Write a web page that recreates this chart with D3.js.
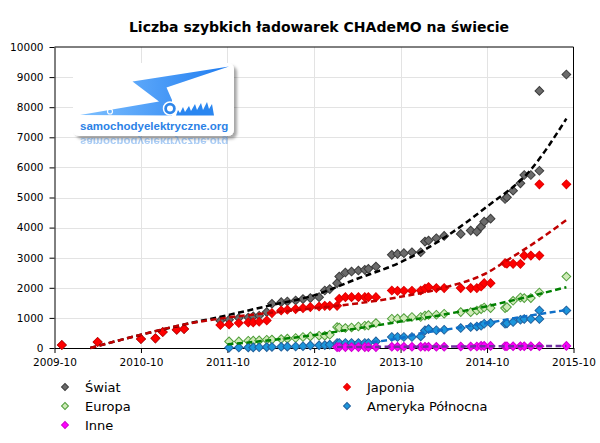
<!DOCTYPE html>
<html>
<head>
<meta charset="utf-8">
<script src="https://cdn.jsdelivr.net/npm/d3@7"></script>
<style>
  body { margin: 0; background: #fff; }
  svg text { font-family: "DejaVu Sans", Verdana, sans-serif; }
</style>
</head>
<body>
<div id="chart"></div>
<script>
var wid = 600,
	heig = 443;

// observation dates (one column per reading)
var dates = ["2009-11-01","2010-04-01","2010-10-01","2010-12-01","2011-01-01","2011-03-01","2011-04-01",
	"2011-09-01","2011-10-08","2011-11-18","2011-12-28","2012-01-18","2012-02-12","2012-03-15","2012-04-06","2012-05-15","2012-06-10","2012-07-15","2012-08-15","2012-09-15","2012-10-22","2012-11-15","2012-12-06",
	"2013-01-06","2013-01-15","2013-02-10","2013-03-08","2013-04-06","2013-05-03","2013-05-18","2013-06-19","2013-08-25","2013-09-18","2013-10-15","2013-11-18","2013-12-25",
	"2014-01-12","2014-01-27","2014-03-01","2014-04-03","2014-06-12","2014-07-24","2014-08-19","2014-09-06","2014-09-19","2014-10-16","2014-12-16","2014-12-24",
	"2015-01-19","2015-02-19","2015-03-07","2015-04-04","2015-05-10","2015-05-10","2015-09-01"];

var swiat = [100,200,300,320,530,607,630,
	905,939,995,1015,1050,1071,1194,1469,1522,1546,1580,1625,1658,1690,1910,1956,
	2155,2374,2507,2540,2573,2596,2630,2706,3094,3127,3150,3183,3183,
	3535,3568,3648,3724,3790,3900,3866,4032,4198,4298,4951,5007,
	5226,5471,5747,5747,5889,8542,9086];

var japonia = [100,200,300,320,530,607,630,
	763,783,830,850,850,872,915,1160,1247,1270,1293,1326,1360,1380,1400,1400,
	1400,1635,1690,1690,1690,1690,1690,1690,1910,1900,1900,1900,1910,
	1976,2023,1990,1990,1990,1990,1990,2043,2155,2155,2819,2800,
	2795,2795,3071,3071,3071,5438,5438];

var europa = [null,null,null,null,null,null,null,
	null,219,219,242,245,252,275,280,298,310,332,365,385,408,408,441,
	695,680,663,683,716,740,750,829,972,975,995,1030,1030,
	1075,1100,1104,1137,1194,1190,1247,1293,1346,1326,1326,1360,
	1568,1678,1658,1658,1844,null,2374];

var ameryka = [null,null,null,null,null,null,null,
	null,10,15,20,20,25,30,35,40,45,50,60,86,90,95,110,
	166,166,166,166,166,166,166,219,365,365,365,365,385,
	584,630,590,607,663,696,716,740,806,829,806,820,
	862,938,962,962,962,1247,1247];

var inne = [null,null,null,null,null,null,null,
	null,null,null,null,null,null,null,null,null,null,null,null,null,null,null,null,
	30,30,30,30,30,30,30,30,40,40,40,40,40,
	40,40,40,40,50,50,50,70,70,70,60,60,
	60,60,60,60,60,null,70];

// trend lines
var trendSwiat = [["2010-03-01",0],["2010-10-01",440],["2011-04-01",780],["2011-10-01",1090],["2012-04-01",1420],["2012-10-01",1750],["2013-04-01",2300],["2013-10-01",2850],["2014-04-01",3650],["2014-10-01",4700],["2015-04-01",5900],["2015-09-01",7620]];
var trendJaponia = [["2010-03-01",0],["2010-10-01",440],["2011-04-01",780],["2011-10-01",1010],["2012-04-01",1170],["2012-10-01",1320],["2013-04-01",1480],["2013-10-01",1700],["2014-04-01",2000],["2014-10-01",2500],["2015-01-01",2950],["2015-04-01",3400],["2015-09-01",4250]];
var trendEuropa = [["2011-10-01",120],["2012-04-01",260],["2012-10-01",430],["2013-04-01",650],["2013-10-01",880],["2014-04-01",1110],["2014-10-01",1390],["2015-04-01",1720],["2015-09-01",2020]];
var trendAmeryka = [["2013-06-01",190],["2013-10-01",330],["2014-01-01",500],["2014-04-01",600],["2014-10-01",830],["2015-04-01",1080],["2015-09-01",1260]];
var trendInne = [["2013-01-06",30],["2014-01-01",45],["2015-09-01",70]];

var yTicks = [0,1000,2000,3000,4000,5000,6000,7000,8000,9000,10000];
var xTicks = ["2009-10","2010-10","2011-10","2012-10","2013-10","2014-10","2015-10"];

var parse = d3.timeParse("%Y-%m-%d");
var parseMonth = d3.timeParse("%Y-%m");

// plot box ("top" is taken by window.top, so prefixed names)
var plotL = 54.5, plotR = 573.5, plotT = 47, plotB = 348;

var x = d3.scaleTime()
	.domain([parseMonth(xTicks[0]), parseMonth(xTicks[xTicks.length-1])])
	.range([plotL, plotR]);
var y = d3.scaleLinear()
	.domain([0, 10000])
	.range([plotB, plotT]);

var vis = d3.select("#chart").append("svg:svg")
	.attr("width", wid)
	.attr("height", heig);

var defs = vis.append("defs");
var grad = defs.append("linearGradient")
	.attr("id", "boltGrad")
	.attr("x1", "0").attr("y1", "0").attr("x2", "1").attr("y2", "0");
grad.append("stop").attr("offset", "0%").attr("stop-color", "#7ec0ff");
grad.append("stop").attr("offset", "100%").attr("stop-color", "#1f7cf0");
defs.append("filter").attr("id", "shadow")
	.attr("x", "-10%").attr("y", "-10%").attr("width", "130%").attr("height", "140%")
	.append("feDropShadow")
	.attr("dx", 3).attr("dy", 3).attr("stdDeviation", 1.5)
	.attr("flood-color", "#000").attr("flood-opacity", 0.35);
defs.append("clipPath").attr("id", "reflClip")
	.append("rect").attr("x", 70).attr("y", 136).attr("width", 170).attr("height", 8);

// title
vis.append("svg:text")
	.attr("x", 319)
	.attr("y", 32)
	.attr("text-anchor", "middle")
	.style("font-size", "14px")
	.style("font-weight", "bold")
	.text("Liczba szybkich ładowarek CHAdeMO na świecie");

// grid
vis.append("g").selectAll("line")
	.data(yTicks.slice(1, yTicks.length-1))
	.enter().append("line")
	.attr("x1", plotL).attr("x2", plotR)
	.attr("y1", function(d){ return Math.round(y(d)) + 0.5; })
	.attr("y2", function(d){ return Math.round(y(d)) + 0.5; })
	.attr("stroke", "#e3e3e3")
	.attr("stroke-width", 1);

vis.append("g").selectAll("line")
	.data(xTicks.slice(1, xTicks.length-1))
	.enter().append("line")
	.attr("x1", function(d){ return Math.round(x(parseMonth(d))) + 0.5; })
	.attr("x2", function(d){ return Math.round(x(parseMonth(d))) + 0.5; })
	.attr("y1", plotT).attr("y2", plotB)
	.attr("stroke", "#e3e3e3")
	.attr("stroke-width", 1);

// logo
drawLogo(vis);

// axes
var yAxis = vis.append("g")
	.attr("transform", "translate(" + plotL + ",0)")
	.call(d3.axisLeft(y).tickValues(yTicks).tickSize(5).tickSizeOuter(0).tickPadding(6).tickFormat(d3.format("d")));
var xAxis = vis.append("g")
	.attr("transform", "translate(0," + plotB + ")")
	.call(d3.axisBottom(x).tickValues(xTicks.map(parseMonth)).tickSize(5).tickSizeOuter(0).tickPadding(6).tickFormat(d3.timeFormat("%Y-%m")));

[yAxis, xAxis].forEach(function(a){
	a.selectAll("text").style("font-size", "10.5px").attr("fill", "#000")
		.style("font-family", '"DejaVu Sans", Verdana, sans-serif');
	a.selectAll("line").attr("stroke", "#000");
	a.select(".domain").attr("stroke", "#000");
});

// top and right frame
vis.append("line").attr("x1", plotL).attr("x2", plotR).attr("y1", plotT).attr("y2", plotT).attr("stroke", "#000");
vis.append("line").attr("x1", plotR).attr("x2", plotR).attr("y1", plotT).attr("y2", plotB).attr("stroke", "#000");

var series = [
	{ name: "Świat", values: swiat, fill: "#6b6b6b", stroke: "#3c3c3c", trend: trendSwiat, tcolor: "#000000" },
	{ name: "Japonia", values: japonia, fill: "#ff0000", stroke: "#e00000", trend: trendJaponia, tcolor: "#c00000" },
	{ name: "Europa", values: europa, fill: "#cfeab8", stroke: "#4f9e3a", trend: trendEuropa, tcolor: "#008000" },
	{ name: "Ameryka Północna", values: ameryka, fill: "#1c96dc", stroke: "#215f9c", trend: trendAmeryka, tcolor: "#1070c8" },
	{ name: "Inne", values: inne, fill: "#ff00ff", stroke: "#d000d0", trend: trendInne, tcolor: "#7030a0" }
];

var diamond = d3.symbol().type(d3.symbolSquare).size(38);
var diamondSmall = d3.symbol().type(d3.symbolSquare).size(24);

// markers
series.forEach(function(s){
	var pts = dates.map(function(d, i){ return { date: parse(d), v: s.values[i] }; })
		.filter(function(p){ return p.v !== null; });
	vis.append("g").selectAll("path")
		.data(pts)
		.enter().append("path")
		.attr("d", diamond)
		.attr("transform", function(p){ return "translate(" + x(p.date) + "," + y(p.v) + ") rotate(45)"; })
		.attr("fill", s.fill)
		.attr("stroke", s.stroke)
		.attr("stroke-width", 1);
});

// trend lines
var trendLine = d3.line()
	.x(function(d){ return x(parse(d[0])); })
	.y(function(d){ return y(d[1]); })
	.curve(d3.curveMonotoneX);

series.forEach(function(s){
	vis.append("path")
		.datum(s.trend)
		.attr("d", trendLine)
		.attr("fill", "none")
		.attr("stroke", s.tcolor)
		.attr("stroke-width", 2.5)
		.attr("stroke-dasharray", "6,3.5");
});

// legend
var legendPos = [[65, 387], [347, 387], [65, 406], [347, 406], [65, 425]];
series.forEach(function(s, i){
	var g = vis.append("g")
		.attr("transform", "translate(" + legendPos[i][0] + "," + legendPos[i][1] + ")");
	g.append("path")
		.attr("d", diamondSmall)
		.attr("transform", "rotate(45)")
		.attr("fill", s.fill)
		.attr("stroke", s.stroke)
		.attr("stroke-width", 1);
	g.append("text")
		.attr("x", 20)
		.attr("y", 0)
		.attr("dy", "0.36em")
		.style("font-size", "13px")
		.text(s.name);
});

function drawLogo(svg) {
	var logo = svg.append("g").attr("class", "logo");

	logo.append("rect")
		.attr("x", 73).attr("y", 63)
		.attr("width", 161).attr("height", 73)
		.attr("rx", 6).attr("ry", 6)
		.attr("fill", "#fff")
		.attr("filter", "url(#shadow)");

	// bolt
	logo.append("path")
		.attr("d", "M132.5,81.5 L229,66.5 L166.5,87.5 L172,100 L172,115.5 L80,115 L159,101.5 Z")
		.attr("fill", "url(#boltGrad)");

	// flames
	logo.append("path")
		.attr("d", "M176,115.5 L178,110 L180,113 L183,107 L185,112 L189,106 L191,111 L195,104 L197,110 L201,103 L203,110 L207,102 L209,109 L212,104 L214,115.5 Z")
		.attr("fill", "#2a86f0");

	// wheel and small wheel
	logo.append("circle").attr("cx", 170).attr("cy", 108.5).attr("r", 6.5)
		.attr("fill", "#2f86ea").attr("stroke", "#fff").attr("stroke-width", 1.5);
	logo.append("circle").attr("cx", 170).attr("cy", 108.5).attr("r", 3)
		.attr("fill", "#fff");
	logo.append("circle").attr("cx", 110).attr("cy", 111.5).attr("r", 2.5)
		.attr("fill", "none").attr("stroke", "#fff").attr("stroke-width", 1.2);

	logo.append("text")
		.attr("x", 80).attr("y", 130)
		.style("font-family", '"Liberation Sans", Arial, sans-serif')
		.style("font-size", "11.5px")
		.style("font-weight", "bold")
		.attr("fill", "#2c82e6")
		.text("samochodyelektryczne.org");

	// faded reflection under the card
	logo.append("g")
		.attr("clip-path", "url(#reflClip)")
		.append("text")
		.attr("transform", "translate(0,268) scale(1,-1)")
		.attr("x", 80).attr("y", 130)
		.style("font-family", '"Liberation Sans", Arial, sans-serif')
		.style("font-size", "11.5px")
		.style("font-weight", "bold")
		.attr("fill", "#2c82e6")
		.attr("opacity", 0.4)
		.text("samochodyelektryczne.org");
}
</script>
</body>
</html>
